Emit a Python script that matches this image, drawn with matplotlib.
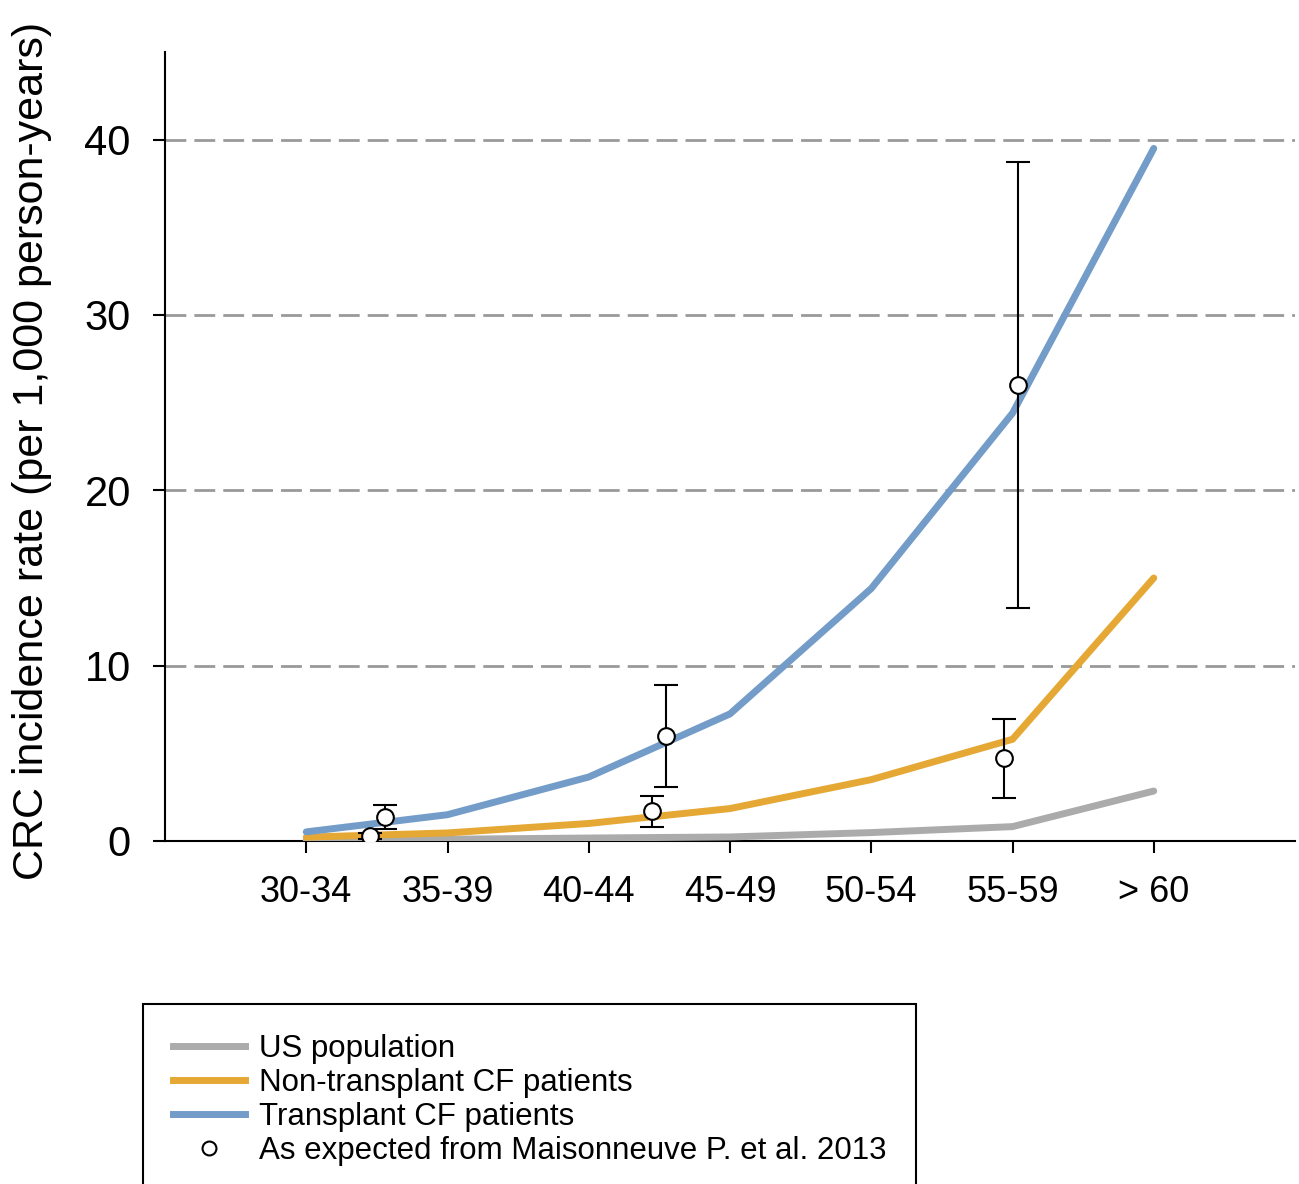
import numpy as np
import matplotlib.pyplot as plt
from matplotlib.lines import Line2D

plt.rcParams['font.family'] = ['Liberation Sans', 'DejaVu Sans']

# age groups and modelled incidence (per 1,000 person-years)
age_groups = ['30-34', '35-39', '40-44', '45-49', '50-54', '55-59', '> 60']
us_population = [0.05, 0.1, 0.17, 0.23, 0.48, 0.82, 2.85]
non_transplant = [0.22, 0.46, 1.0, 1.85, 3.5, 5.8, 15.0]
transplant = [0.52, 1.5, 3.65, 7.25, 14.4, 24.4, 39.5]

# expected values from Maisonneuve et al. 2013 (x in age-group index units)
exp_x = [0.45, 0.56, 2.45, 2.55, 4.94, 5.04]
exp_y = [0.29, 1.37, 1.71, 5.99, 4.74, 26.0]
exp_lo = [0.1, 0.68, 0.8, 3.08, 2.45, 13.3]
exp_hi = [0.45, 2.05, 2.57, 8.9, 6.96, 38.75]

c_us = '#ababab'
c_non = '#e5a834'
c_tx = '#739cc8'

W, H = 1299, 1184
fig = plt.figure(figsize=(W / 100, H / 100), dpi=100)
ax = fig.add_axes([165 / W, 1 - 841 / H, 1130 / W, 789 / H])

x = np.arange(len(age_groups))
ax.plot(x, us_population, color=c_us, lw=5, solid_capstyle='round', zorder=3)
ax.plot(x, non_transplant, color=c_non, lw=5, solid_capstyle='round', zorder=3)
ax.plot(x, transplant, color=c_tx, lw=5, solid_capstyle='round', zorder=3)

ey = np.array(exp_y)
yerr = [ey - np.array(exp_lo), np.array(exp_hi) - ey]
ax.errorbar(exp_x, exp_y, yerr=yerr, fmt='o', mfc='white', mec='black', ms=12,
            mew=1.5, ecolor='black', elinewidth=1.5, capsize=8.5, capthick=1.5,
            zorder=5)

ax.set_xlim(-1, 7)
ax.set_ylim(0, 45)
ax.set_xticks(x)
ax.set_xticklabels(age_groups)
ax.set_yticks([0, 10, 20, 30, 40])
ax.grid(True, axis='y', color='#999999', lw=2, linestyle=(0, (7.5, 2.9)), zorder=1)
ax.set_axisbelow(True)

for s in ['top', 'right']:
    ax.spines[s].set_visible(False)
for s in ['left', 'bottom']:
    ax.spines[s].set_linewidth(1.5)
ax.tick_params(axis='both', direction='out', length=8.6, width=1.5, color='black')
ax.tick_params(axis='x', labelsize=26, pad=16)
ax.tick_params(axis='y', labelsize=30, pad=16)

fig.text(32 / W, 1 - 451 / H, 'CRC incidence rate (per 1,000 person-years)',
         rotation=90, ha='center', va='center', fontsize=31)

handles = [
    Line2D([], [], color=c_us, lw=5),
    Line2D([], [], color=c_non, lw=5),
    Line2D([], [], color=c_tx, lw=5),
    Line2D([], [], ls='none', marker='o', mfc='white', mec='black', ms=10, mew=1.5),
]
labels = ['US population', 'Non-transplant CF patients', 'Transplant CF patients',
          'As expected from Maisonneuve P. et al. 2013']
leg = fig.legend(handles, labels, loc='upper left',
                 bbox_to_anchor=(143 / W, 1 - 1004 / H), frameon=True,
                 fancybox=False, edgecolor='black', framealpha=1, fontsize=22.5,
                 handlelength=2.3, handletextpad=0.45, labelspacing=0.13,
                 borderpad=0.95, borderaxespad=0)
leg.get_frame().set_linewidth(1.5)

fig.savefig('out.png', dpi=100)
